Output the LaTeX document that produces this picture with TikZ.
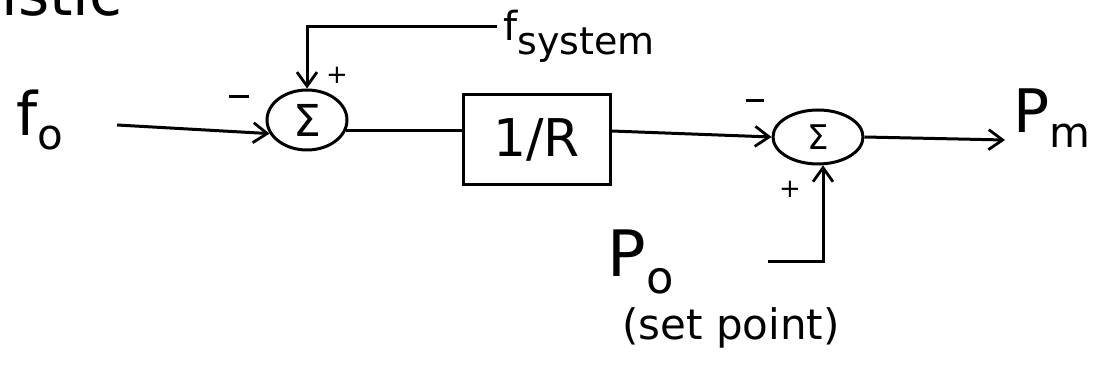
\documentclass[tikz,border=0pt]{standalone}
\usepackage{fontspec}
\setmainfont{DejaVu Sans}
\usetikzlibrary{arrows.meta,shapes.geometric}
\begin{document}
\begin{tikzpicture}[x=1pt,y=-1pt,
  line width=3pt,
  wire/.style={line width=3pt},
  arr/.style={wire,-{Straight Barb[length=14pt,width=20pt,line width=2.8pt]}},
  sumj/.style={ellipse,draw,line width=3pt,inner sep=0pt},
  blk/.style={rectangle,draw,line width=3pt,inner sep=0pt,minimum width=147pt,minimum height=90pt},
  lbl/.style={inner sep=0pt},
  sgn/.style={inner sep=0pt,font=\fontsize{26}{26}\selectfont}]
\useasboundingbox (0,0) rectangle (1095,371);

% clipped heading fragment
\node[lbl,anchor=base west,font=\fontsize{60}{60}\selectfont] (head) at (0,16) {istic};

% blocks
\node[sumj,minimum width=80pt,minimum height=60pt,font=\fontsize{44}{44}\selectfont] (s1) at (307,120) {Σ};
\node[blk,font=\fontsize{52}{52}\selectfont] (gain) at (536.5,140) {1/R};
\node[sumj,minimum width=90pt,minimum height=54pt,font=\fontsize{34}{34}\selectfont] (s2) at (818,137) {Σ};

% labels
\node[lbl,font=\fontsize{60}{60}\selectfont] (f0) at (40,120) {f\textsubscript{o}};
\node[lbl,anchor=west,font=\fontsize{40}{40}\selectfont] (fsys) at (502,36) {f\raisebox{-0.35em}{\fontsize{38}{38}\selectfont system}};
\node[lbl,font=\fontsize{60}{60}\selectfont] (pm) at (1052,118) {P\textsubscript{m}};
\node[lbl,font=\fontsize{64}{64}\selectfont] (po) at (641,262) {P\textsubscript{o}};
\node[lbl,font=\fontsize{42}{42}\selectfont] (sp) at (731,328) {(set point)};

% coordinates for free ends
\coordinate (fin) at (117,125);
\coordinate (fs) at (497,27);
\coordinate (pout) at (1005,140);
\coordinate (pin) at (768,262);

% connectors
\draw[arr] (fin) -- (s1.200);
\draw[wire] (s1.345) -- (gain.west |- s1.345);
\draw[arr] (gain.east |- 0,131) -- (s2.west);
\draw[arr] (s2.east) -- (pout);
\draw[arr] (fs) -| (s1.north);
\draw[arr] (pin) -| (s2.280);

% signs
\node[sgn] (m1) at (239,100) {\raisebox{0.25em}{\rule{20pt}{2.6pt}}};
\node[sgn] (p1) at (337,75) {+};
\node[sgn] (m2) at (755,104) {\raisebox{0.25em}{\rule{18pt}{2.6pt}}};
\node[sgn] (p2) at (790,189) {+};
\end{tikzpicture}
\end{document}
